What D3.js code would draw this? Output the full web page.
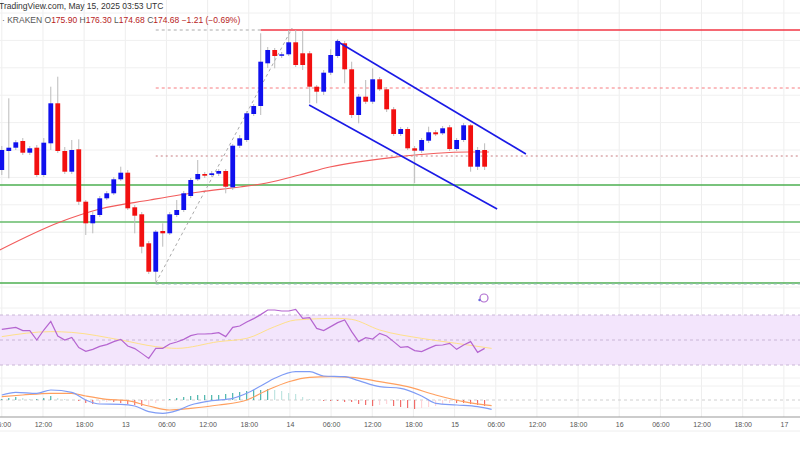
<!DOCTYPE html>
<html><head><meta charset="utf-8">
<script src="https://cdn.jsdelivr.net/npm/d3@7"></script>
<style>body{margin:0;background:#fff}svg{display:block;font-family:"Liberation Sans",Arial,sans-serif}</style>
</head><body><svg id="c" width="800" height="450"></svg>
<script>
const openP=[183.0,184.9,185.23,185.9,184.73,185.23,182.5,185.67,189.67,184.9,182.83,185.07,179.83,177.67,178.5,180.17,180.67,182.07,182.73,179.27,178.57,175.67,172.83,176.9,176.67,178.5,179.0,180.4,182.07,182.6,182.5,182.63,182.9,181.27,185.43,186.0,188.6,189.4,193.67,195.0,194.47,194.57,195.77,194.67,194.67,191.33,190.83,192.73,194.4,195.67,193.07,188.5,190.33,189.83,192.07,191.07,189.07,186.6,187.1,185.17,184.93,185.93,186.77,186.67,187.27,185.1,186.0,187.47,183.33,185.0];
const highP=[185.4,190.17,186.0,186.2,185.4,185.5,186.2,191.33,192.33,185.3,186.0,186.07,180.0,178.8,180.4,180.9,182.3,183.33,183.0,179.5,178.8,175.9,177.0,177.67,178.8,180.0,180.9,182.2,184.0,182.8,182.9,183.1,183.1,185.6,186.5,188.9,189.6,196.67,195.3,195.2,194.8,197.0,197.0,197.0,194.9,191.5,193.0,195.07,196.1,195.9,193.83,190.6,192.0,193.17,192.3,191.3,189.3,187.3,187.3,185.4,186.2,187.33,187.0,187.4,187.5,186.2,187.7,187.6,185.3,185.67];
const lowP=[182.5,182.17,185.0,184.5,184.5,182.3,182.3,185.0,184.7,182.6,182.6,179.5,176.5,176.67,178.3,180.0,180.5,181.9,179.0,176.67,174.67,172.6,171.83,175.33,176.5,178.3,178.8,180.2,181.9,182.2,182.3,182.4,180.67,181.0,185.2,185.8,188.4,188.5,193.2,193.17,194.2,194.4,193.3,193.0,189.67,189.67,190.5,192.5,194.2,191.67,188.2,187.67,189.6,189.6,190.9,188.8,186.4,186.4,185.0,181.67,184.7,185.7,186.4,186.5,184.9,184.9,185.8,182.83,183.0,183.0];
const closeP=[185.0,185.23,185.77,184.73,185.17,182.5,185.73,189.67,184.9,182.83,185.0,179.83,177.67,178.5,180.17,180.67,182.07,182.73,179.17,178.43,175.33,172.83,176.83,176.67,178.57,179.0,180.67,182.0,182.6,182.43,182.67,182.9,181.33,185.43,186.17,188.67,189.4,193.83,195.0,194.4,194.57,195.77,193.5,193.5,191.33,190.83,192.73,194.5,195.9,193.07,188.5,190.33,189.83,192.07,191.07,189.07,186.6,187.1,185.17,184.93,186.0,186.77,186.57,187.17,185.1,186.0,187.47,183.33,185.0,183.33];
const maHours=[-0.3,8.5,14.3,21.6,28.8,34.7,38.6,43.4,47.8,57.5,68,71];
const maVals=[175.0,177.8,179.1,180.0,180.8,181.3,181.7,182.5,183.3,184.3,184.8,184.8];
const rsi=[58.5,59.3,60.1,57.5,57.5,50.0,58.0,64.9,53.2,50.0,52.1,43.9,40.9,42.5,44.9,46.3,48.7,50.5,45.2,43.1,39.3,35.3,43.3,43.3,46.8,48.4,50.5,53.5,54.8,54.8,55.1,55.9,52.7,60.1,61.2,64.4,67.1,70.3,74.0,74.0,73.2,73.2,74.5,67.3,67.9,59.3,57.5,60.7,63.9,66.0,56.7,48.7,51.9,50.8,55.3,53.2,48.7,44.1,44.7,41.5,40.7,43.3,45.7,46.0,47.3,42.5,46.0,48.7,40.1,43.3];
const rsiMaIdx=[0,7,10,17,22,25,31,35,39,42,48,50,54,60,65,70];
const rsiMaVals=[52.7,56.7,56.1,50.0,44.7,43.3,48.7,51.3,60.7,66.0,67.3,66.5,58.0,51.3,47.3,43.3];
const macdIdx=[0,2,5,7,10,12,14,17,19,21,23,25,27,30,33,35,37,39,42,44,46,49,51,54,57,60,62,65,68,70];
const macdVals=[0.5,0.77,0.67,1.0,0.77,0,-0.4,-0.43,-0.6,-1.17,-1.33,-1.07,-0.5,-0.07,0.17,0.67,1.4,2.17,2.83,2.83,2.4,2.33,1.93,1.33,1.17,0.4,-0.33,-0.5,-0.67,-0.93];
const sigIdx=[0,3,7,10,12,15,18,21,24,27,31,35,38,41,44,47,50,54,58,62,66,70];
const sigVals=[0.33,0.5,0.67,0.67,0.4,0.07,-0.07,-0.6,-1.0,-0.83,-0.5,0,1.0,1.83,2.27,2.33,2.27,1.83,1.33,0.5,-0.17,-0.57];
const hist=[0.1,0.2,0.3,0.2,0.1,0.1,0.2,0.4,0.2,0.1,0,-0.1,-0.3,-0.4,-0.3,-0.2,-0.2,-0.3,-0.4,-0.5,-0.6,-0.5,-0.3,-0.1,0.1,0.2,0.3,0.4,0.5,0.5,0.5,0.5,0.6,0.7,0.8,0.9,1.0,1.0,1.1,1.0,0.9,0.7,0.6,0.3,0.1,0,-0.1,-0.1,-0.1,-0.2,-0.2,-0.4,-0.5,-0.6,-0.5,-0.4,-0.6,-0.7,-0.8,-0.9,-0.8,-0.7,-0.6,-0.4,-0.3,-0.3,-0.3,-0.4,-0.5,-0.6];
const hLevels=[{p:197.0,c:"#f23645",dash:null,from:37},{p:191.2,c:"#f77c80",dash:"3,3",from:22},{p:184.4,c:"#c77c80",dash:"2,3",from:22},{p:181.5,c:"#4caf50",dash:null,from:-1},{p:177.8,c:"#66bb6a",dash:null,from:-1},{p:171.7,c:"#4caf50",dash:null,from:-1}];
const channel=[{h1:48.8,p1:195.9,h2:76.4,p2:184.6},{h1:44.8,p1:189.5,h2:72.2,p2:179.1}];

const t0=Date.UTC(2025,4,12,6);
const H=3600000;
const svg=d3.select("#c");
const x=d3.scaleUtc().domain([new Date(t0),new Date(t0+116*H)]).range([1.8,797.6]);
const xi=i=>x(new Date(t0+i*H));
const ci=i=>xi(i*1.02);
const y=d3.scaleLinear().domain([200,170]).range([0,300]);
const yr=d3.scaleLinear().domain([70,30]).range([315,365]);
const ym=d3.scaleLinear().domain([0,1]).range([400,390]);

const ticks=x.ticks(d3.utcHour.every(6));
svg.append("g").selectAll("line").data(ticks).join("line")
 .attr("x1",d=>x(d)).attr("x2",d=>x(d)).attr("y1",0).attr("y2",417).attr("stroke","#eeeeee");
const gridP=d3.range(198.7,170,-2.74);
svg.append("g").selectAll("line").data(gridP).join("line").attr("x1",0).attr("x2",800)
 .attr("y1",d=>y(d)).attr("y2",d=>y(d)).attr("stroke","#f0f0f0");
[308,328,352,378,386,408].forEach(v=>svg.append("line").attr("x1",0).attr("x2",800).attr("y1",v).attr("y2",v).attr("stroke","#f0f0f0"));

svg.append("rect").attr("x",0).attr("width",800).attr("y",yr(70)).attr("height",yr(30)-yr(70)).attr("fill","#f3e5fc");
[70,50,30].forEach(v=>svg.append("line").attr("x1",0).attr("x2",800).attr("y1",yr(v)).attr("y2",yr(v)).attr("stroke","#c9b6d6").attr("stroke-dasharray","3,3"));
svg.append("line").attr("x1",0).attr("x2",800).attr("y1",ym(0)).attr("y2",ym(0)).attr("stroke","#d0d0d0").attr("stroke-dasharray","3,3");

hLevels.forEach(l=>svg.append("line").attr("x1",l.from<0?0:ci(l.from)).attr("x2",800).attr("y1",y(l.p)).attr("y2",y(l.p))
 .attr("stroke",l.c).attr("stroke-width",l.dash?1:1.3).attr("stroke-dasharray",l.dash));
svg.append("line").attr("x1",ci(22)).attr("x2",ci(37)).attr("y1",y(197.0)).attr("y2",y(197.0)).attr("stroke","#aaa").attr("stroke-dasharray","3,3");
svg.append("line").attr("x1",ci(22)).attr("x2",800).attr("y1",y(171.7)+1).attr("y2",y(171.7)+1).attr("stroke","#9bb").attr("stroke-dasharray","3,3");
svg.append("line").attr("x1",ci(22)).attr("x2",ci(41.5)).attr("y1",y(171.7)).attr("y2",y(197.2)).attr("stroke","#aaa").attr("stroke-dasharray","3,3");

svg.append("path").datum(maHours.map((h,i)=>[h,maVals[i]])).attr("fill","none").attr("stroke","#f25c5c").attr("stroke-width",1.2)
 .attr("d",d3.line().x(d=>xi(d[0])).y(d=>y(d[1])).curve(d3.curveMonotoneX));

const cd=openP.map((o,i)=>({i,o,h:highP[i],l:lowP[i],c:closeP[i]}));
const g=svg.append("g");
g.selectAll(".w").data(cd).join("line").attr("x1",d=>ci(d.i)).attr("x2",d=>ci(d.i)).attr("y1",d=>y(d.h)).attr("y2",d=>y(d.l)).attr("stroke","#bbbbbb");
g.selectAll(".b").data(cd).join("rect").attr("x",d=>ci(d.i)-2.4).attr("width",4.8)
 .attr("y",d=>y(Math.max(d.o,d.c))).attr("height",d=>Math.max(1.5,Math.abs(y(d.o)-y(d.c))))
 .attr("fill",d=>d.c>=d.o?"#1010ee":"#f21010");

channel.forEach(c=>svg.append("line").attr("x1",xi(c.h1)).attr("y1",y(c.p1)).attr("x2",xi(c.h2)).attr("y2",y(c.p2)).attr("stroke","#1a1ae6").attr("stroke-width",1.6));

svg.append("circle").attr("cx",484).attr("cy",298).attr("r",4).attr("fill","none").attr("stroke","#b06ed0").attr("stroke-width",1.2);
svg.append("circle").attr("cx",479.5).attr("cy",300).attr("r",1.2).attr("fill","#6a6ae0");

svg.append("path").datum(rsiMaIdx.map((h,i)=>[h,rsiMaVals[i]])).attr("fill","none").attr("stroke","#ffe08a").attr("stroke-width",1)
 .attr("d",d3.line().x(d=>ci(d[0])).y(d=>yr(d[1])).curve(d3.curveMonotoneX));
svg.append("path").datum(rsi).attr("fill","none").attr("stroke","#b565d0").attr("stroke-width",1.2)
 .attr("d",d3.line().x((d,i)=>ci(i)).y(d=>yr(d)));

svg.append("g").selectAll("line").data(hist).join("line").attr("x1",(d,i)=>ci(i)).attr("x2",(d,i)=>ci(i))
 .attr("y1",ym(0)).attr("y2",d=>ym(d)).attr("stroke-width",1)
 .attr("stroke",(d,i)=>{const p=i?hist[i-1]:0;return d>=0?(d>=p?"#26a69a":"#b2dfdb"):(d<=p?"#ef5350":"#ffcdd2");});
svg.append("path").datum(sigIdx.map((h,i)=>[h,sigVals[i]])).attr("fill","none").attr("stroke","#ffa060").attr("stroke-width",1.2)
 .attr("d",d3.line().x(d=>ci(d[0])).y(d=>ym(d[1])).curve(d3.curveMonotoneX));
svg.append("path").datum(macdIdx.map((h,i)=>[h,macdVals[i]])).attr("fill","none").attr("stroke","#7f9cf5").attr("stroke-width",1.2)
 .attr("d",d3.line().x(d=>ci(d[0])).y(d=>ym(d[1])).curve(d3.curveMonotoneX));

svg.append("rect").attr("x",0).attr("y",417).attr("width",800).attr("height",33).attr("fill","#fff");
svg.append("line").attr("x1",0).attr("x2",800).attr("y1",417).attr("y2",417).attr("stroke","#999");
svg.append("line").attr("x1",0).attr("x2",800).attr("y1",431).attr("y2",431).attr("stroke","#eee");
const fmt=d=>d.getUTCHours()===0?d3.utcFormat("%-d")(d):d3.utcFormat("%H:%M")(d);
svg.append("g").attr("transform","translate(0,417)").call(d3.axisBottom(x).tickValues(ticks).tickFormat(fmt).tickSize(0).tickPadding(5))
 .call(a=>a.select(".domain").remove()).selectAll("text").attr("font-size",7).attr("fill","#555");

svg.append("text").attr("x",-1).attr("y",9).attr("font-size",8.5).attr("fill","#333").text("TradingView.com, May 15, 2025 03:53 UTC");
const t=svg.append("text").attr("x",2).attr("y",23).attr("font-size",8.5);
t.append("tspan").attr("fill","#555").text("· KRAKEN ");
[["O","175.90"],["H","176.30"],["L","174.68"],["C","174.68"]].forEach(([k,v])=>{t.append("tspan").attr("fill","#555").text(k);t.append("tspan").attr("fill","#b71c1c").text(v+" ");});
t.append("tspan").attr("fill","#b71c1c").text("−1.21 (−0.69%)");
</script></body></html>
